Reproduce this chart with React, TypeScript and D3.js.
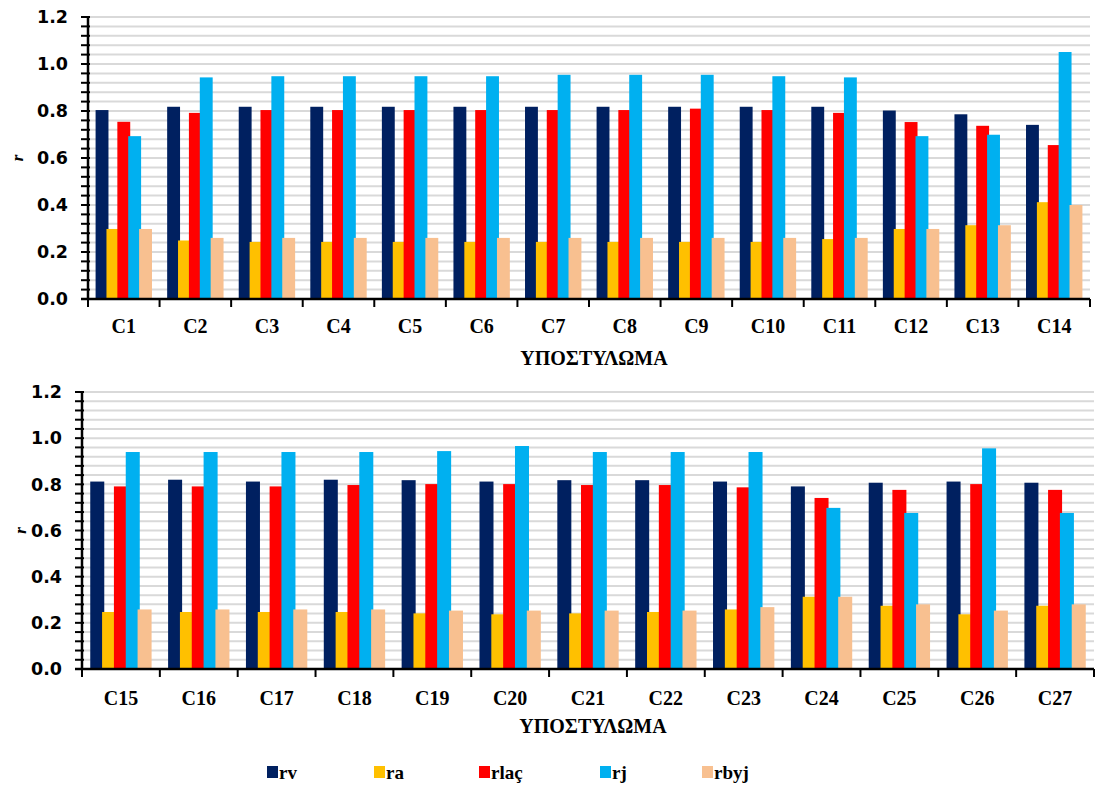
import React from "react";
import * as d3 from "d3";

const categoriesTop = ["C1","C2","C3","C4","C5","C6","C7","C8","C9","C10","C11","C12","C13","C14"];
const categoriesBottom = ["C15","C16","C17","C18","C19","C20","C21","C22","C23","C24","C25","C26","C27"];

const seriesNames = ["rv", "ra", "rlaç", "rj", "rbyj"];
const seriesColors = ["#002060", "#FFC000", "#FF0000", "#00B0F0", "#F8C090"];

// top panel
const rvTop =   [0.804,0.818,0.818,0.818,0.818,0.818,0.818,0.818,0.818,0.818,0.818,0.802,0.786,0.741];
const raTop =   [0.298,0.249,0.243,0.243,0.243,0.243,0.243,0.243,0.243,0.243,0.255,0.298,0.314,0.412];
const rlacTop = [0.754,0.792,0.804,0.804,0.804,0.804,0.804,0.804,0.810,0.804,0.792,0.753,0.737,0.655];
const rjTop =   [0.693,0.943,0.948,0.948,0.948,0.948,0.954,0.954,0.954,0.948,0.943,0.693,0.699,1.051];
const rbyjTop = [0.298,0.260,0.260,0.260,0.260,0.260,0.260,0.260,0.260,0.260,0.260,0.298,0.314,0.400];

// bottom panel
const rvBottom =   [0.812,0.820,0.812,0.820,0.818,0.812,0.818,0.818,0.812,0.791,0.807,0.812,0.807];
const raBottom =   [0.247,0.247,0.247,0.247,0.241,0.237,0.241,0.247,0.258,0.313,0.274,0.237,0.274];
const rlacBottom = [0.791,0.791,0.791,0.797,0.801,0.801,0.797,0.797,0.787,0.741,0.776,0.801,0.776];
const rjBottom =   [0.940,0.940,0.940,0.940,0.944,0.966,0.940,0.940,0.940,0.698,0.676,0.956,0.676];
const rbyjBottom = [0.258,0.258,0.258,0.258,0.253,0.253,0.253,0.253,0.268,0.313,0.280,0.253,0.280];

const yMajorTicks = [0, 0.2, 0.4, 0.6, 0.8, 1.0, 1.2];
const xTitle = "ΥΠΟΣΤΥΛΩΜΑ";
const yTitle = "r";

type PanelProps = {
  categories: string[];
  series: number[][];
  x0: number; x1: number; yTop: number; yBottom: number;
  labelY: number; titleY: number; yTitleX: number;
};

function Panel({ categories, series, x0, x1, yTop, yBottom, labelY, titleY, yTitleX }: PanelProps) {
  const y = d3.scaleLinear().domain([0, 1.2]).range([yBottom, yTop]);
  const x = d3.scaleBand<string>().domain(categories).range([x0, x1]).paddingInner(0).paddingOuter(0);
  const band = x.bandwidth();
  const step = band * 0.152;
  const barW = band * 0.18;
  const groupW = step * (series.length - 1) + barW;
  const minorTicks = d3.range(0, 1.2001, 0.04);
  const tickFmt = d3.format(".1f");
  return (
    <g>
      {minorTicks.slice(1).map((t, i) => (
        <line key={"g" + i} x1={x0 + 2} x2={x1} y1={y(t)} y2={y(t)} stroke="#D9D9D9" strokeWidth={2} />
      ))}
      {series.map((vals, si) => (
        <g key={"s" + si}>
          {categories.map((c, ci) => {
            const bx = (x(c) as number) + band / 2 - groupW / 2 + si * step;
            return (
              <rect key={c} x={bx} y={y(vals[ci])} width={barW} height={yBottom - y(vals[ci])} fill={seriesColors[si]} />
            );
          })}
        </g>
      ))}
      {/* y axis */}
      <line x1={x0} x2={x0} y1={yTop} y2={yBottom + 1} stroke="#000" strokeWidth={2.5} />
      {minorTicks.map((t, i) => (
        <line key={"t" + i} x1={x0 - 7} x2={x0 + 2} y1={y(t)} y2={y(t)} stroke="#000" strokeWidth={2} />
      ))}
      {yMajorTicks.map((t) => (
        <text key={"l" + t} x={x0 - 20} y={y(t)} dy="0.36em" textAnchor="end"
          fontFamily="DejaVu Sans" fontWeight="bold" fontSize={17.5} fill="#000">{tickFmt(t)}</text>
      ))}
      {/* x axis */}
      <line x1={x0 - 7} x2={x1} y1={yBottom} y2={yBottom} stroke="#000" strokeWidth={2.5} />
      {categories.map((c) => (
        <line key={"xt" + c} x1={(x(c) as number) + band} x2={(x(c) as number) + band} y1={yBottom} y2={yBottom + 8} stroke="#000" strokeWidth={2} />
      ))}
      <line x1={x0} x2={x0} y1={yBottom} y2={yBottom + 8} stroke="#000" strokeWidth={2} />
      {categories.map((c) => (
        <text key={"xl" + c} x={(x(c) as number) + band / 2} y={labelY} dy="0.35em" textAnchor="middle"
          fontFamily="Liberation Serif" fontWeight="bold" fontSize={20} fill="#000">{c}</text>
      ))}
      <text x={(x0 + x1) / 2 + 5} y={titleY} dy="0.35em" textAnchor="middle"
        fontFamily="Liberation Serif" fontWeight="bold" fontSize={20} fill="#000">{xTitle}</text>
      <text transform={`translate(${yTitleX},${(yTop + yBottom) / 2}) rotate(-90)`} textAnchor="middle" dy="0.35em"
        fontFamily="Liberation Serif" fontWeight="bold" fontStyle="italic" fontSize={17} fill="#000">{yTitle}</text>
    </g>
  );
}

export default function App() {
  const seriesTop = [rvTop, raTop, rlacTop, rjTop, rbyjTop];
  const seriesBottom = [rvBottom, raBottom, rlacBottom, rjBottom, rbyjBottom];
  const legendX = [267, 374, 479, 600, 702];
  return (
    <svg width={1096} height={787} style={{ position: "absolute", left: 0, top: 0, background: "#fff" }}>
      <rect width={1096} height={787} fill="#fff" />
      <Panel categories={categoriesTop} series={seriesTop} x0={88} x1={1090} yTop={17} yBottom={299}
        labelY={326} titleY={358} yTitleX={17} />
      <Panel categories={categoriesBottom} series={seriesBottom} x0={82} x1={1094} yTop={392} yBottom={669}
        labelY={698} titleY={726} yTitleX={20} />
      {seriesNames.map((n, i) => (
        <g key={n}>
          <rect x={legendX[i]} y={766} width={11} height={12} fill={seriesColors[i]} />
          <text x={legendX[i] + 12} y={772} dy="0.35em" fontFamily="Liberation Serif" fontWeight="bold" fontSize={19} fill="#000">{n}</text>
        </g>
      ))}
    </svg>
  );
}
